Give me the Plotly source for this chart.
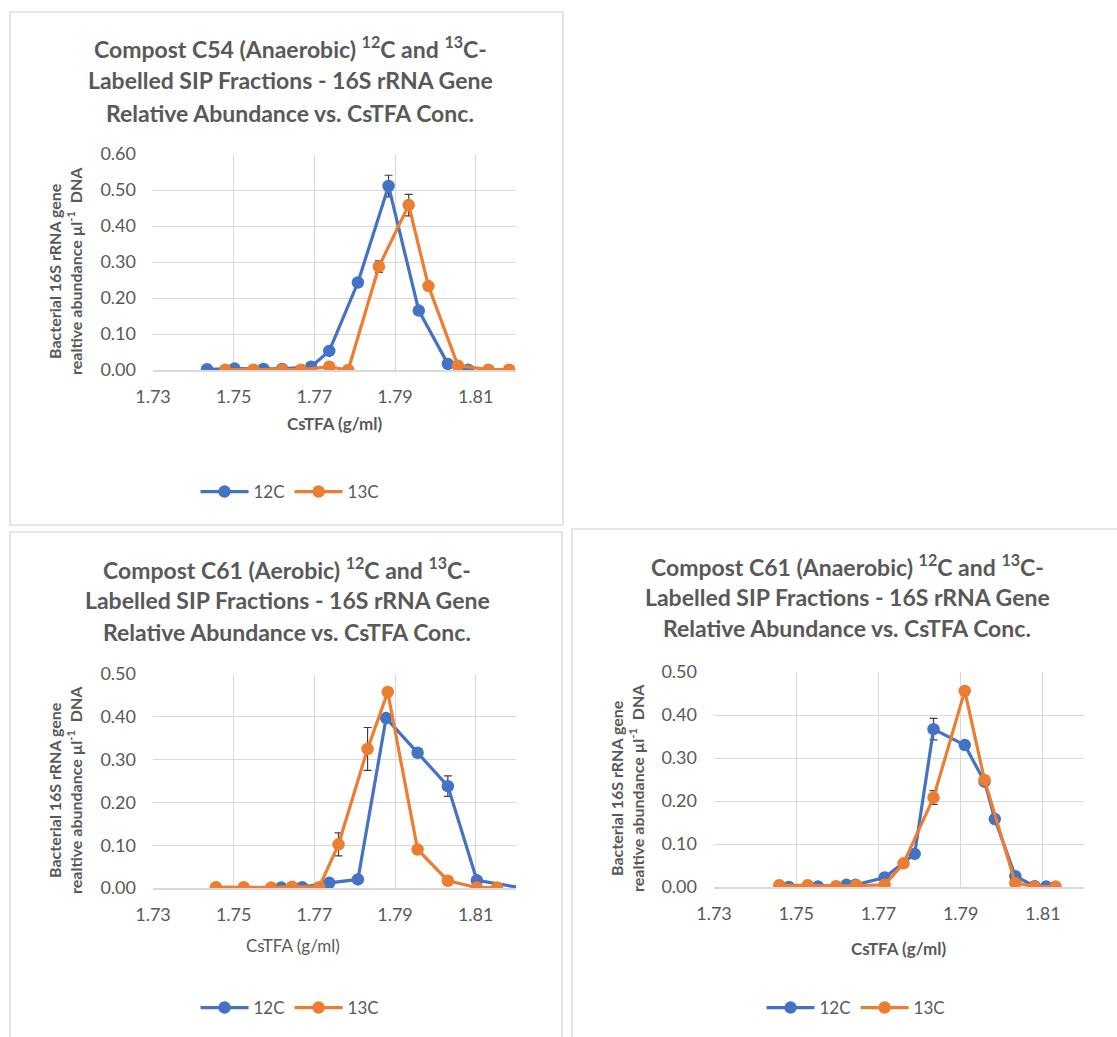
import plotly.graph_objects as go

# ---- data: CsTFA density (g/ml) vs. relative 16S rRNA gene abundance ----
# Compost C54 (Anaerobic)
c54_12c_x = [1.7434, 1.7502, 1.7574, 1.7620, 1.7692, 1.7737, 1.7808, 1.7884, 1.7959, 1.8031, 1.8081]
c54_12c_y = [0.002, 0.004, 0.003, 0.003, 0.009, 0.053, 0.243, 0.511, 0.165, 0.017, 0.001]
c54_12c_err = [0, 0, 0, 0, 0.002, 0.004, 0.010, 0.030, 0.008, 0.003, 0]
c54_13c_x = [1.7479, 1.7549, 1.7620, 1.7667, 1.7737, 1.7784, 1.7860, 1.7934, 1.7983, 1.8056, 1.8132, 1.8183]
c54_13c_y = [0.001, 0.001, 0.001, 0.001, 0.009, 0.000, 0.287, 0.458, 0.233, 0.012, 0.001, 0.001]
c54_13c_err = [0, 0, 0, 0, 0.002, 0, 0.016, 0.030, 0.010, 0.003, 0, 0]

# Compost C61 (Aerobic)
c61a_12c_x = [1.7618, 1.7670, 1.7737, 1.7808, 1.7878, 1.7956, 1.8031, 1.8103, 1.8215]
c61a_12c_y = [0.001, 0.002, 0.012, 0.020, 0.397, 0.316, 0.238, 0.018, 0.000]
c61a_12c_err = [0, 0, 0.003, 0.003, 0.005, 0.005, 0.024, 0.004, 0]
c61a_13c_x = [1.7456, 1.7525, 1.7593, 1.7645, 1.7712, 1.7760, 1.7832, 1.7882, 1.7956, 1.8031, 1.8103, 1.8153]
c61a_13c_y = [0.002, 0.002, 0.001, 0.003, 0.002, 0.102, 0.325, 0.458, 0.090, 0.017, 0.001, 0.001]
c61a_13c_err = [0, 0, 0, 0, 0, 0.027, 0.050, 0.004, 0.003, 0.002, 0, 0]

# Compost C61 (Anaerobic)
c61n_12c_x = [1.7482, 1.7553, 1.7622, 1.7644, 1.7715, 1.7788, 1.7834, 1.7910, 1.7958, 1.7983, 1.8033, 1.8080, 1.8108]
c61n_12c_y = [0.000, 0.001, 0.005, 0.005, 0.022, 0.077, 0.367, 0.330, 0.245, 0.158, 0.025, 0.002, 0.001]
c61n_12c_err = [0, 0, 0, 0, 0.003, 0.005, 0.025, 0.008, 0, 0.010, 0.003, 0, 0]
c61n_13c_x = [1.7459, 1.7528, 1.7597, 1.7646, 1.7715, 1.7761, 1.7834, 1.7910, 1.7958, 1.8033, 1.8080, 1.8131]
c61n_13c_y = [0.004, 0.004, 0.002, 0.004, 0.005, 0.055, 0.208, 0.456, 0.249, 0.009, 0.001, 0.001]
c61n_13c_err = [0, 0, 0, 0, 0, 0.003, 0.016, 0.010, 0.005, 0, 0, 0]

x_ticks = [1.73, 1.75, 1.77, 1.79, 1.81]
series_names = ["12C", "13C"]

titles = [
    ["Compost C54 (Anaerobic) <sup>12</sup>C and <sup>13</sup>C-",
     "Labelled SIP Fractions - 16S rRNA Gene",
     "Relative Abundance vs. CsTFA Conc."],
    ["Compost C61 (Aerobic) <sup>12</sup>C and <sup>13</sup>C-",
     "Labelled SIP Fractions - 16S rRNA Gene",
     "Relative Abundance vs. CsTFA Conc."],
    ["Compost C61 (Anaerobic) <sup>12</sup>C and <sup>13</sup>C-",
     "Labelled SIP Fractions - 16S rRNA Gene",
     "Relative Abundance vs. CsTFA Conc."],
]
y_title = "Bacterial 16S rRNA gene<br>realtive abundance µl<sup>-1</sup>  DNA"
x_title = "CsTFA (g/ml)"

# ---- page geometry (pixels) ----
W, H = 1117, 1037
BLUE, ORANGE = "#4472C4", "#ED7D31"
GREY_TXT = "#595959"
GRID = "#d9d9d9"
FONT = "Lato, 'Open Sans', sans-serif"


def px(x):
    return x / W


def py(y):
    return 1 - y / H


# panel layout: plot box (left, top, right, bottom), y max, frame, title/legend positions
panels = [
    dict(plot=(153, 154, 516, 370), ymax=0.6, frame=(10, 12, 563, 525),
         title=(290, [47, 80, 113]), ytitle_x=(55, 75), xtitle=(335, 424, True), legend=(290, 492),
         data=[(c54_12c_x, c54_12c_y, c54_12c_err), (c54_13c_x, c54_13c_y, c54_13c_err)]),
    dict(plot=(153, 674, 516, 888), ymax=0.5, frame=(10, 532, 562, 1040),
         title=(287, [568, 600, 632]), ytitle_x=(55, 75), xtitle=(293, 945, False), legend=(290, 1008),
         data=[(c61a_12c_x, c61a_12c_y, c61a_12c_err), (c61a_13c_x, c61a_13c_y, c61a_13c_err)]),
    dict(plot=(714, 672, 1084, 887), ymax=0.5, frame=(572, 529, 1120, 1040),
         title=(847, [565, 597, 628]), ytitle_x=(617, 636), xtitle=(899, 948, True), legend=(856, 1008),
         data=[(c61n_12c_x, c61n_12c_y, c61n_12c_err), (c61n_13c_x, c61n_13c_y, c61n_13c_err)]),
]

fig = go.Figure()
shapes, annotations = [], []
layout_axes = {}

for i, p in enumerate(panels, start=1):
    sfx = "" if i == 1 else str(i)
    legend_id = "legend" if i == 1 else f"legend{i}"
    l, t, r, b = p["plot"]

    for (xs, ys, es), name, color in zip(p["data"], series_names, [BLUE, ORANGE]):
        fig.add_trace(go.Scatter(
            x=xs, y=ys, name=name, mode="lines+markers",
            line=dict(color=color, width=3.2),
            marker=dict(color=color, size=12.5),
            error_y=dict(type="data", array=es, visible=True,
                         color="#404040", thickness=1.2, width=4),
            xaxis=f"x{sfx}", yaxis=f"y{sfx}", legend=legend_id,
        ))

    layout_axes[f"xaxis{sfx}"] = dict(
        domain=[px(l), px(r)], anchor=f"y{sfx}", range=[1.73, 1.82],
        tickvals=x_ticks, ticktext=[f"{v:.2f}" for v in x_ticks],
        showgrid=True, gridcolor=GRID, gridwidth=1, zeroline=False,
        showline=True, linecolor=GRID, linewidth=1.5, ticks="",
        tickfont=dict(family=FONT, size=18, color=GREY_TXT),
        ticklabelstandoff=10, automargin=False,
    )
    layout_axes[f"yaxis{sfx}"] = dict(
        domain=[py(b), py(t)], anchor=f"x{sfx}", range=[0, p["ymax"]],
        dtick=0.1, tickformat=".2f", showgrid=True, gridcolor=GRID, gridwidth=1,
        zeroline=False, showline=False, ticks="",
        tickfont=dict(family=FONT, size=18, color=GREY_TXT),
        ticklabelstandoff=16, automargin=False,
    )

    # chart frame
    fl, ft, fr, fb = p["frame"]
    shapes.append(dict(type="rect", xref="paper", yref="paper",
                       x0=px(fl), x1=px(fr), y0=py(fb), y1=py(ft),
                       line=dict(color="#d0d0d0", width=1.2), fillcolor="rgba(0,0,0,0)"))

    # chart title, one annotation per line
    tx, tys = p["title"]
    for line_text, ty in zip(titles[i - 1], tys):
        annotations.append(dict(text=f"<b>{line_text}</b>", xref="paper", yref="paper",
                                x=px(tx), y=py(ty), xanchor="center", yanchor="middle",
                                showarrow=False, align="center",
                                font=dict(family=FONT, size=23, color=GREY_TXT)))

    # y-axis title (two lines, rotated)
    yc = (t + b) / 2
    annotations.append(dict(text=f"<b>{y_title}</b>", xref="paper", yref="paper",
                            x=px(sum(p["ytitle_x"]) / 2), y=py(yc + 9), xanchor="center", yanchor="middle",
                            textangle=-90, showarrow=False, align="center",
                            font=dict(family=FONT, size=16, color=GREY_TXT)))

    # x-axis title
    xx, xy, bold = p["xtitle"]
    annotations.append(dict(text=f"<b>{x_title}</b>" if bold else x_title,
                            xref="paper", yref="paper", x=px(xx), y=py(xy),
                            xanchor="center", yanchor="middle", showarrow=False,
                            font=dict(family=FONT, size=17, color=GREY_TXT)))

    lx, ly = p["legend"]
    layout_axes[legend_id] = dict(
        x=px(lx), y=py(ly), xanchor="center", yanchor="middle",
        orientation="h", bgcolor="rgba(0,0,0,0)", itemwidth=48,
        font=dict(family=FONT, size=17, color=GREY_TXT),
    )

fig.update_layout(
    width=W, height=H, margin=dict(l=0, r=0, t=0, b=0, autoexpand=False),
    paper_bgcolor="white", plot_bgcolor="white",
    shapes=shapes, annotations=annotations,
    **layout_axes,
)

fig.write_html("out.html")
